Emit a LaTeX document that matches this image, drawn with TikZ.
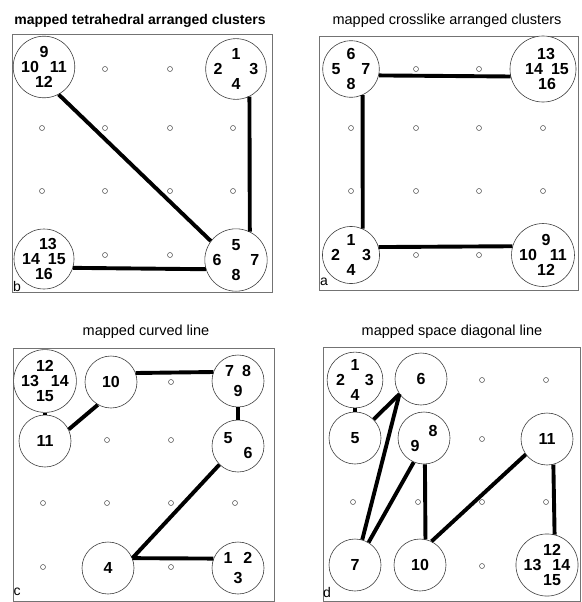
\documentclass[tikz,border=0pt]{standalone}
\usepackage{fontspec}
\setmainfont{Liberation Sans}
\begin{document}
\begin{tikzpicture}[
  x=1pt, y=-1pt,
  clus/.style  = {circle, draw=black!75, line width=0.6pt, fill=white,
                  minimum size=52pt, inner sep=0pt, align=center,
                  font=\fontsize{16}{15}\selectfont\bfseries},
  dot/.style   = {circle, draw=black!70, line width=0.5pt,
                  minimum size=5pt, inner sep=0pt},
  link/.style  = {line width=3.9pt},
  frame/.style = {draw=black!55, line width=0.7pt},
  ttl/.style   = {font=\fontsize{14.5}{16}\selectfont},
  plab/.style  = {font=\fontsize{14}{16}\selectfont, inner sep=0pt},
]
\useasboundingbox (0,0) rectangle (581,602);

%%────────── PANEL b – tetrahedral ───────────────────────────
\node[ttl, font=\fontsize{14}{16}\selectfont\bfseries] (t1) at (140,21)
  {mapped tetrahedral arranged clusters};
\draw[frame] (12,34) rectangle (272,292);
\foreach \p [count=\i] in {(105,69),(170,69),(42,128),(105,128),(170,128),
    (233,128),(42,191),(105,191),(170,191),(233,191),(105,255),(170,255)}
  \node[dot] (b\i) at \p {};

\node[clus] (b9)  at (44,67)  {9\\10\hspace*{11pt}11\\12};
\node[clus] (b1)  at (236,69) {1\\2\hspace*{27pt}3\\4};
\node[clus] (b13) at (44,259) {\hspace*{8pt}13\\14\hspace*{8pt}15\\16};
\node[clus] (b5)  at (236,260) {5\\6\hspace*{29pt}7\\8};
\node[plab] (lb)  at (17,286) {b};

\draw[link] (b9.-62)  -- (b5.143);
\draw[link] (b1.-64)  -- (b5.64);
\draw[link] (b13.-17) -- (b5.197);

%%────────── PANEL a – crosslike ─────────────────────────────
\node[ttl] (t2) at (447,21) {mapped crosslike arranged clusters};
\draw[frame] (319,36) rectangle (578,290);
\foreach \p [count=\i] in {(416,69),(479,69),(351,128),(416,128),(479,128),
    (543,128),(351,191),(416,191),(479,191),(543,191),(416,255),(479,255)}
  \node[dot] (a\i) at \p {};

\node[clus] (a5)  at (351,69)  {6\\5\hspace*{21pt}7\\8};
\node[clus] (a13) at (543,69)  {\hspace*{6pt}13\\\hspace*{8pt}14\hspace*{8pt}15\\\hspace*{8pt}16};
\node[clus] (a1)  at (351,255) {1\\2\hspace*{22pt}3\\4};
\node[clus] (a9)  at (543,255) {\hspace*{6pt}9\\10\hspace*{13pt}11\\\hspace*{6pt}12};
\node[plab] (la)  at (324,282) {a};

\draw[link] (a5.-13) -- (a13.193);
\draw[link] (a5.-66) -- (a1.66);
\draw[link] (a1.16)  -- (a9.164);

%%────────── PANEL c – curved line ───────────────────────────
\node[ttl] (t3) at (146,332) {mapped curved line};
\draw[frame] (13,348) rectangle (274,601);
\foreach \p [count=\i] in {(171,382),(107,440),(171,440),(43,503),(107,503),
    (171,503),(235,503),(43,567),(171,567)}
  \node[dot] (c\i) at \p {};

\node[clus] (c12) at (45,381)  {12\\13\hspace*{12pt}14\\15};
\node[clus] (c10) at (111,382) {10};
\node[clus] (c7)  at (238,381) {7\hspace*{8pt}8\\[5pt]9};
\node[clus] (c11) at (45,441)  {11};
\node[clus] (c5)  at (238,446) {5\hspace*{20pt}\\\hspace*{20pt}6};
\node[clus] (c4)  at (108,568) {4};
\node[clus] (c1)  at (238,568) {1\hspace*{11pt}2\\[5pt]3};
\node[plab] (lc)  at (17,592)  {c};

\draw[link] (c10.20)  -- (c7.160);
\draw[link] (c12)     -- (c11);
\draw[link] (c11.26)  -- (c10.-120);
\draw[link] (c7)      -- (c5);
\draw[link] (c5.225)  -- (c4.22);
\draw[link] (c4.22)   -- (c1.159);

%%────────── PANEL d – space diagonal ────────────────────────
\node[ttl] (t4) at (452,332) {mapped space diagonal line};
\draw[frame] (323,347) rectangle (580,601);
\foreach \p [count=\i] in {(482,380),(546,380),(482,439),(353,502),(418,502),
    (482,502),(546,502),(482,566)}
  \node[dot] (d\i) at \p {};

\node[clus] (d1)  at (355,380) {1\\2\hspace*{20pt}3\\4};
\node[clus] (d6)  at (421,379) {6};
\node[clus] (d5)  at (355,438) {5};
\node[clus] (d8)  at (424,438) {\hspace*{18pt}8\\9\hspace*{18pt}};
\node[clus] (d11) at (547,439) {11};
\node[clus] (d7)  at (355,565) {7};
\node[clus] (d10) at (420,565) {10};
\node[clus] (d12) at (547,565) {\hspace*{10pt}12\\13\hspace*{11pt}14\\\hspace*{10pt}15};
\node[plab] (ld)  at (327,592) {d};

\draw[link] (d1)      -- (d5);
\draw[link] (d6.215)  -- (d5.45);
\draw[link] (d6.215)  -- (d7.74);
\draw[link] (d8.247)  -- (d7.59);
\draw[link] (d8.-88)  -- (d10.78);
\draw[link] (d10.64)  -- (d11.216);
\draw[link] (d11.-76) -- (d12.76);

\end{tikzpicture}
\end{document}
